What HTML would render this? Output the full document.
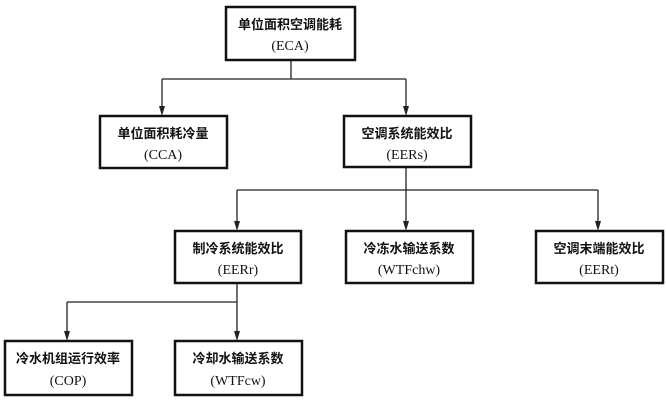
<!DOCTYPE html>
<html><head><meta charset="utf-8"><style>
html,body{margin:0;padding:0;background:#fff;}
svg{display:block;}
text{font-family:"Liberation Sans","Noto Sans CJK SC",sans-serif;fill:#111;text-anchor:middle;}
.c{font-size:13px;font-weight:bold;}
.e{font-family:"Liberation Serif","Noto Sans CJK SC",serif;font-size:14px;}
rect{fill:#fff;stroke:#111;stroke-width:2.5;}
.l{stroke:#222;stroke-width:1.3;fill:none;}
.h{fill:#222;}
</style></head><body>
<svg width="666" height="403" viewBox="0 0 666 403">
<path class="l" d="M291,61 V79 M162,79 H406 M162,79 V110 M406,79 V110"/>
<path class="l" d="M406,168 V190 M237,190 H598 M237,190 V225 M406,190 V225 M598,190 V225"/>
<path class="l" d="M237,284 V302 M67,302 H237 M67,302 V335 M237,302 V335"/>
<polygon class="h" points="159,106 165,106 162,116"/>
<polygon class="h" points="403,106 409,106 406,116"/>
<polygon class="h" points="234,221 240,221 237,231"/>
<polygon class="h" points="403,221 409,221 406,231"/>
<polygon class="h" points="595,221 601,221 598,231"/>
<polygon class="h" points="64,331 70,331 67,341"/>
<polygon class="h" points="234,331 240,331 237,341"/>
<rect x="226" y="7" width="129" height="53"/>
<text class="c" x="290" y="29">单位面积空调能耗</text><text class="e" x="290" y="50">(ECA)</text>
<rect x="100" y="116" width="127" height="52"/>
<text class="c" x="163" y="138">单位面积耗冷量</text><text class="e" x="163" y="159">(CCA)</text>
<rect x="344" y="116" width="127" height="51"/>
<text class="c" x="407" y="138">空调系统能效比</text><text class="e" x="407" y="159">(EERs)</text>
<rect x="175" y="231" width="126" height="52"/>
<text class="c" x="238" y="253">制冷系统能效比</text><text class="e" x="238" y="274">(EERr)</text>
<rect x="346" y="231" width="127" height="52"/>
<text class="c" x="409" y="253">冷冻水输送系数</text><text class="e" x="409" y="274">(WTFchw)</text>
<rect x="536" y="231" width="127" height="52"/>
<text class="c" x="599" y="253">空调末端能效比</text><text class="e" x="599" y="274">(EERt)</text>
<rect x="5" y="341" width="127" height="54"/>
<text class="c" x="68" y="363">冷水机组运行效率</text><text class="e" x="68" y="385">(COP)</text>
<rect x="175" y="341" width="127" height="54"/>
<text class="c" x="238" y="363">冷却水输送系数</text><text class="e" x="238" y="385">(WTFcw)</text>
</svg>
</body></html>
